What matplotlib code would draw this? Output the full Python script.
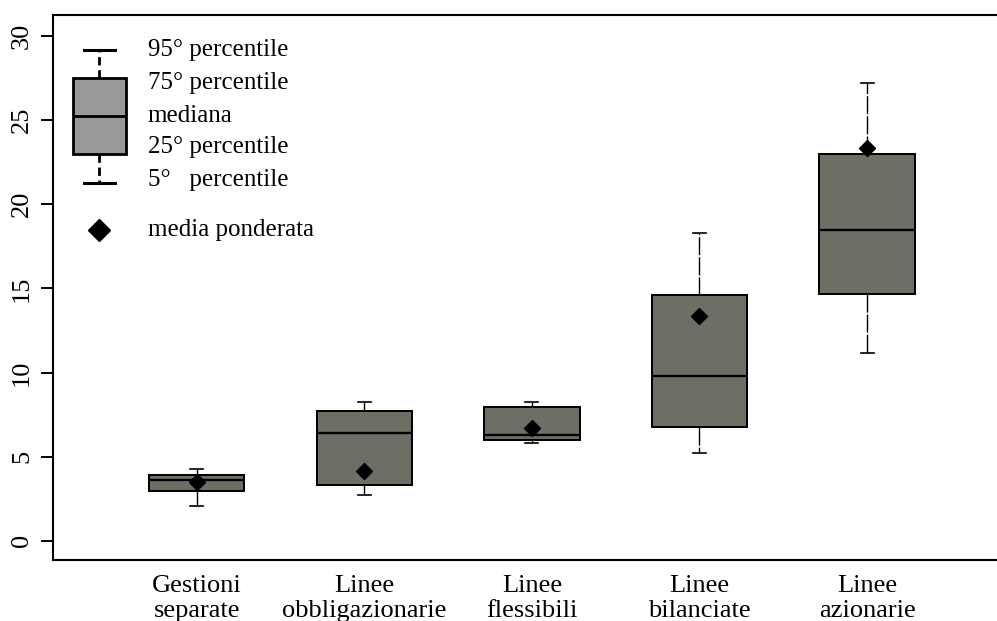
import matplotlib
matplotlib.use('Agg')
import matplotlib.pyplot as plt

# ---- data ----
categories = ["Gestioni\nseparate", "Linee\nobbligazionarie", "Linee\nflessibili",
              "Linee\nbilanciate", "Linee\nazionarie"]
p5 = [2.06, 2.73, 5.80, 5.23, 11.13]
p25 = [2.97, 3.33, 6.00, 6.75, 14.68]
p50 = [3.62, 6.38, 6.26, 9.82, 18.50]
p75 = [3.88, 7.72, 7.96, 14.58, 23.01]
p95 = [4.26, 8.24, 8.26, 18.30, 27.23]
media_ponderata = [3.52, 4.14, 6.73, 13.33, 23.33]
yticks = [0, 5, 10, 15, 20, 25, 30]

legend_labels = ["95° percentile", "75° percentile", "mediana",
                 "25° percentile", "5°   percentile", "media ponderata"]
legend_box = [21.27, 23.01, 25.25, 27.49, 29.17]   # 5, 25, 50, 75, 95
legend_mean = 18.47
legend_text_y = [29.17, 27.2, 25.25, 23.43, 21.45, 18.47]

plt.rcParams['font.family'] = ['Liberation Serif', 'DejaVu Serif']

fig = plt.figure(figsize=(9.97, 6.21), dpi=100)
ax = fig.add_axes([0.0527, 0.0982, 0.9473, 0.8776])

positions = list(range(1, len(categories) + 1))
stats = []
for i in range(len(categories)):
    stats.append(dict(whislo=p5[i], q1=p25[i], med=p50[i], q3=p75[i],
                      whishi=p95[i], fliers=[], label=categories[i]))

ax.bxp(stats, positions=positions, widths=0.57, capwidths=0.078,
       patch_artist=True, showfliers=False, manage_ticks=False,
       boxprops=dict(facecolor='#6e6e65', edgecolor='black', linewidth=1.45),
       whiskerprops=dict(color='black', linewidth=1.0, linestyle=(0, (13, 1.5))),
       capprops=dict(color='black', linewidth=1.2),
       medianprops=dict(color='black', linewidth=1.7))

ax.plot(positions, media_ponderata, linestyle='none', marker='D',
        markersize=8.5, color='black', zorder=5)

# ---- legend drawn as a boxplot sample ----
lx = 0.42
ax.bxp([dict(whislo=legend_box[0], q1=legend_box[1], med=legend_box[2],
             q3=legend_box[3], whishi=legend_box[4], fliers=[])],
       positions=[lx], widths=0.3125, capwidths=0.19,
       patch_artist=True, showfliers=False, manage_ticks=False,
       boxprops=dict(facecolor='#999999', edgecolor='black', linewidth=2.0),
       whiskerprops=dict(color='black', linewidth=2.0, linestyle=(0, (3, 1.7))),
       capprops=dict(color='black', linewidth=2.2),
       medianprops=dict(color='black', linewidth=2.0))
ax.plot([lx], [legend_mean], linestyle='none', marker='D', markersize=11,
        color='black', zorder=5)
for lab, yy in zip(legend_labels, legend_text_y):
    ax.text(0.708, yy, lab, fontsize=18, ha='left', va='center')

# ---- axes styling ----
ax.set_xlim(0.14, 5.775)
ax.set_ylim(-1.147, 31.25)
ax.set_yticks(yticks)
ax.set_yticklabels([str(t) for t in yticks], rotation=90, va='center', fontsize=19)
ax.set_xticks(positions)
ax.set_xticklabels(categories, fontsize=19, linespacing=1.17)
ax.tick_params(axis='x', length=0, pad=11)
ax.tick_params(axis='y', length=9, width=1.4, pad=5)
ax.spines['right'].set_visible(False)
for s in ['left', 'top', 'bottom']:
    ax.spines[s].set_linewidth(1.5)

fig.savefig('out.png', dpi=100)
